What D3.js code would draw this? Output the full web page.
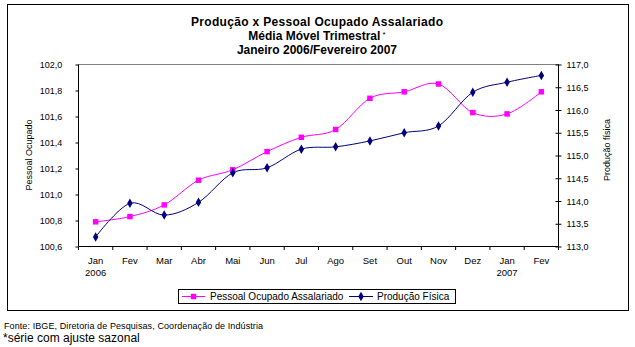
<!DOCTYPE html>
<html><head><meta charset="utf-8">
<script src="https://cdn.jsdelivr.net/npm/d3@7"></script>
<style>
body{margin:0;background:#fff;}
svg{display:block;}
text{font-family:Arial,"Liberation Sans",sans-serif;fill:#000;}
</style></head>
<body>
<script>
const months = ["Jan","Fev","Mar","Abr","Mai","Jun","Jul","Ago","Set","Out","Nov","Dez","Jan","Fev"];
const yearLabels = ["2006","","","","","","","","","","","","2007",""];
const pessoal = [100.79,100.83,100.92,101.11,101.19,101.33,101.44,101.50,101.74,101.79,101.85,101.63,101.62,101.79];
const producao = [113.21,113.95,113.69,113.97,114.62,114.73,115.14,115.19,115.32,115.50,115.65,116.39,116.61,116.76];
const leftTicks = [100.6,100.8,101.0,101.2,101.4,101.6,101.8,102.0];
const rightTicks = [113.0,113.5,114.0,114.5,115.0,115.5,116.0,116.5,117.0];
const titleLines = ["Produção x Pessoal Ocupado Assalariado","Média Móvel Trimestral","Janeiro 2006/Fevereiro 2007"];

const W=635,H=347;
const svg=d3.select("body").append("svg").attr("width",W).attr("height",H);
const fmt = v => v.toFixed(1).replace(".",",");

// outer frame
svg.append("rect").attr("x",7.5).attr("y",4.5).attr("width",621).attr("height",306)
  .attr("fill","#fff").attr("stroke","#000").attr("stroke-width",1);

const L=78.5,R=558.5,T=64.5,B=246.5;
const idx = d3.range(months.length);
const x = d3.scaleBand().domain(idx).range([L,R]);
const cx = i => x(i)+x.bandwidth()/2;
const yL = d3.scaleLinear().domain([100.6,102.0]).range([B,T]);
const yR = d3.scaleLinear().domain([113,117]).range([B,T]);

// titles
const tt = svg.selectAll("text.title").data(titleLines).join("text").attr("class","title")
  .attr("x",317).attr("y",(d,i)=>26+i*14).attr("text-anchor","middle")
  .attr("font-size","12px").attr("font-weight","bold").text(d=>d);
tt.filter((d,i)=>i===0).attr("textLength",252).attr("lengthAdjust","spacing");
tt.filter((d,i)=>i===1).append("tspan").attr("font-size","8px").attr("dy",-3).attr("font-weight","normal").text(" *");

// top gray gridline
svg.append("line").attr("x1",L).attr("x2",R).attr("y1",T).attr("y2",T).attr("stroke","#808080");

// left axis
const gL = svg.append("g").attr("transform",`translate(${L},0)`)
  .call(d3.axisLeft(yL).tickValues(leftTicks).tickSize(3).tickFormat(()=>""));
gL.select(".domain").attr("stroke","#000").attr("d",`M0,${T}V${B}`);
gL.selectAll(".tick line").attr("stroke","#000");
svg.selectAll("text.yl").data(leftTicks).join("text").attr("class","yl")
  .attr("x",51).attr("y",d=>yL(d)+3.5).attr("text-anchor","middle").attr("font-size","9px").text(fmt);

// right axis
const gR = svg.append("g").attr("transform",`translate(${R},0)`)
  .call(d3.axisRight(yR).tickValues(rightTicks).tickSize(3).tickFormat(()=>""));
gR.select(".domain").attr("stroke","#000").attr("d",`M0,${T}V${B}`);
gR.selectAll(".tick line").attr("stroke","#000").attr("x1",-3);
svg.selectAll("text.yr").data(rightTicks).join("text").attr("class","yr")
  .attr("x",577.5).attr("y",d=>yR(d)+3.5).attr("text-anchor","middle").attr("font-size","9px").text(fmt);

// bottom axis
const gB = svg.append("g").attr("transform",`translate(0,${B})`)
  .call(d3.axisBottom(x).tickSize(0).tickFormat(()=>""));
gB.select(".domain").attr("stroke","#000").attr("d",`M${L},0H${R}`);
gB.selectAll(".tick").remove();
const edges = d3.range(months.length+1).map(i=> i<months.length ? x(i) : x(months.length-1)+x.bandwidth());
svg.selectAll("line.xt").data(edges).join("line").attr("class","xt")
  .attr("x1",d=>d).attr("x2",d=>d).attr("y1",B).attr("y2",B+3.5).attr("stroke","#000");
svg.selectAll("text.xm").data(idx).join("text").attr("class","xm")
  .attr("x",cx).attr("y",263.5).attr("text-anchor","middle").attr("font-size","9.5px").text(i=>months[i]);
svg.selectAll("text.xy").data(idx.filter(i=>yearLabels[i])).join("text").attr("class","xy")
  .attr("x",cx).attr("y",275.5).attr("text-anchor","middle").attr("font-size","9.5px").text(i=>yearLabels[i]);

// axis titles
svg.append("text").attr("transform","translate(32,155) rotate(-90)").attr("text-anchor","middle")
  .attr("font-size","9px").text("Pessoal Ocupado");
svg.append("text").attr("transform","translate(610,150) rotate(-90)").attr("text-anchor","middle")
  .attr("font-size","9px").text("Produção física");

// lines
const curve = d3.curveCatmullRom.alpha(0);
const lineP = d3.line().x((d,i)=>cx(i)).y(d=>yL(d)).curve(curve);
const lineQ = d3.line().x((d,i)=>cx(i)).y(d=>yR(d)).curve(curve);
svg.append("path").attr("d",lineP(pessoal)).attr("fill","none").attr("stroke","#FF00FF").attr("stroke-width",1);
svg.append("path").attr("d",lineQ(producao)).attr("fill","none").attr("stroke","#000080").attr("stroke-width",1);
const sq = d3.symbol().type(d3.symbolSquare).size(30);
const dm = d3.symbol().type(d3.symbolDiamond).size(26);
svg.selectAll("path.mp").data(pessoal).join("path").attr("class","mp")
  .attr("transform",(d,i)=>`translate(${cx(i)},${yL(d)})`).attr("d",sq()).attr("fill","#FF00FF");
svg.selectAll("path.mq").data(producao).join("path").attr("class","mq")
  .attr("transform",(d,i)=>`translate(${cx(i)},${yR(d)})`).attr("d",dm()).attr("fill","#000080");

// legend
const lg = svg.append("g");
lg.append("rect").attr("x",178.5).attr("y",289.5).attr("width",277).attr("height",14)
  .attr("fill","#fff").attr("stroke","#000");
lg.append("line").attr("x1",182).attr("x2",205).attr("y1",296.5).attr("y2",296.5).attr("stroke","#FF00FF");
lg.append("path").attr("transform","translate(193.5,296.5)").attr("d",sq()).attr("fill","#FF00FF");
lg.append("text").attr("x",210).attr("y",300).attr("font-size","10px").text("Pessoal Ocupado Assalariado");
lg.append("line").attr("x1",349).attr("x2",373).attr("y1",296.5).attr("y2",296.5).attr("stroke","#000080");
lg.append("path").attr("transform","translate(361,296.5)").attr("d",dm()).attr("fill","#000080");
lg.append("text").attr("x",377).attr("y",300).attr("font-size","10px").text("Produção Física");

// footnotes
svg.append("text").attr("x",4).attr("y",329).attr("font-size","9px").attr("textLength",259)
  .attr("lengthAdjust","spacing").text("Fonte: IBGE, Diretoria de Pesquisas, Coordenação de Indústria");
svg.append("text").attr("x",3).attr("y",342).attr("font-size","12px").text("*série com ajuste sazonal");
</script>
</body></html>
